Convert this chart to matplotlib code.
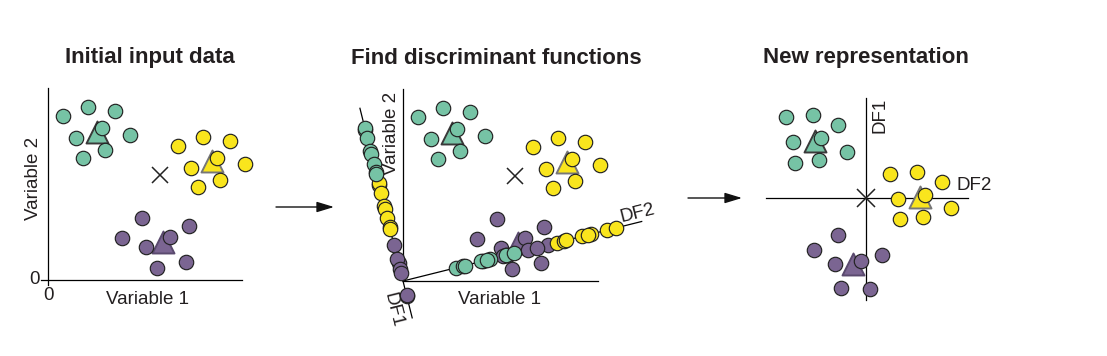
import numpy as np
import matplotlib.pyplot as plt

plt.rcParams['font.family'] = ['Liberation Sans', 'DejaVu Sans']

# class data (variable 1, variable 2)
teal_x = [15, 40, 67, 54, 28, 82, 57, 35]
teal_y = [164, 173, 169, 152, 142, 145, 130, 122]
yellow_x = [130, 155, 182, 169, 143, 197, 172, 150]
yellow_y = [134, 143, 139, 122, 112, 116, 100, 93]
purple_x = [94, 141, 74, 122, 98, 138, 109]
purple_y = [62, 54, 42, 43, 33, 18, 12]

# class centroids and overall centre
cent_x = [49, 164, 115]
cent_y = [148, 119, 38]
centre = (112, 105)

# discriminant function direction (degrees from variable 1 axis)
df_angle = 14

colors = ['#76c3a5', '#f9e51d', '#7b6592']
tri_edge = ['#3a3a3a', '#777777', '#5a4a6e']
text_col = '#231f20'

groups = [(teal_x, teal_y), (yellow_x, yellow_y), (purple_x, purple_y)]

W, H = 1107, 356
fig = plt.figure(figsize=(W / 100, H / 100), dpi=100)

c, s = np.cos(np.radians(df_angle)), np.sin(np.radians(df_angle))


def to_df(x, y):
    x, y = np.asarray(x, float), np.asarray(y, float)
    return -s * x + c * y, c * x + s * y   # df1, df2


def panel(ox, oy, left, right, top, bottom):
    # axes where one data unit is one pixel, origin at (ox, oy)
    ax = fig.add_axes([left / W, (H - bottom) / H, (right - left) / W, (bottom - top) / H])
    ax.set_xlim(left - ox, right - ox)
    ax.set_ylim(oy - bottom, oy - top)
    ax.axis('off')
    return ax


def dots(ax, x, y, col, z=3):
    ax.scatter(x, y, s=108, c=col, edgecolors='#222222', linewidths=0.85, zorder=z, clip_on=False)


def tri(ax, x, y, i):
    ax.scatter([x], [y], marker='^', s=250, c=colors[i], edgecolors=tri_edge[i],
               linewidths=1.4, zorder=2, clip_on=False)


lw = 0.9
fs = 13.5

# panel 1: initial data
ax1 = panel(48, 280, 15, 265, 85, 320)
ax1.plot([-7, 194], [0, 0], color='black', lw=lw)
ax1.plot([0, 0], [-5, 192], color='black', lw=lw)
for i, (gx, gy) in enumerate(groups):
    tri(ax1, cent_x[i], cent_y[i], i)
    dots(ax1, gx, gy, colors[i])
ax1.plot(*centre, marker='x', ms=12, mew=1.1, color='#222222', zorder=4)
ax1.text(-8, 0, '0', ha='right', va='center', fontsize=fs, color=text_col)
ax1.text(0, -15, '0', ha='center', va='center', fontsize=fs, color=text_col)
ax1.text(99, -20, 'Variable 1', ha='center', va='center', fontsize=fs, color=text_col)
ax1.text(-15, 102, 'Variable 2', ha='center', va='center', rotation=90, fontsize=fs, color=text_col)

# panel 2: discriminant functions
ax2 = panel(403, 281, 340, 690, 85, 345)
ax2.plot([0, 195], [0, 0], color='black', lw=lw, zorder=1)
ax2.plot([0, 0], [0, 192], color='black', lw=lw, zorder=1)
t1 = np.array([-38, 178])
t2 = np.array([0, 246])
ax2.plot(-s * t1, c * t1, color='black', lw=lw, zorder=1)
ax2.plot(c * t2, s * t2, color='black', lw=lw, zorder=1)
for i, (gx, gy) in enumerate(groups):
    tri(ax2, cent_x[i], cent_y[i], i)
    dots(ax2, gx, gy, colors[i])
# projections onto DF1 and DF2
for i in [2, 1, 0]:
    d1, d2 = to_df(*groups[i])
    dots(ax2, -s * d1, c * d1, colors[i], z=5 + (2 - i))
    dots(ax2, c * d2, s * d2, colors[i], z=5 + (2 - i))
ax2.plot(*centre, marker='x', ms=12, mew=1.1, color='#222222', zorder=4)
ax2.text(97, -19, 'Variable 1', ha='center', va='center', fontsize=fs, color=text_col)
ax2.text(-11, 148, 'Variable 2', ha='center', va='center', rotation=90, fontsize=fs, color=text_col)
ax2.text(235, 68, 'DF2', ha='center', va='center', rotation=df_angle, fontsize=fs, color=text_col)
ax2.text(-10, -29, 'DF1', ha='center', va='center', rotation=df_angle - 90, fontsize=fs, color=text_col)

# panel 3: new representation
ax3 = panel(866, 198, 750, 1010, 85, 320)
ax3.plot([-100, 102], [0, 0], color='black', lw=lw, zorder=1)
ax3.plot([0, 0], [-102, 100], color='black', lw=lw, zorder=1)
c1, c2 = to_df(*centre)
k1, k2 = to_df(cent_x, cent_y)
for i, (gx, gy) in enumerate(groups):
    d1, d2 = to_df(gx, gy)
    tri(ax3, k2[i] - c2, k1[i] - c1, i)
    dots(ax3, d2 - c2, d1 - c1, colors[i])
ax3.plot(0, 0, marker='x', ms=13.5, mew=1.1, color='#222222', zorder=4)
ax3.text(14, 83, 'DF1', ha='center', va='center', rotation=90, fontsize=fs, color=text_col)
ax3.text(91, 13, 'DF2', ha='left', va='center', fontsize=fs, color=text_col)

# overlay for titles and arrows
ov = fig.add_axes([0, 0, 1, 1], facecolor='none')
ov.set_xlim(0, W)
ov.set_ylim(H, 0)
ov.axis('off')
titles = ['Initial input data', 'Find discriminant functions', 'New representation']
title_x = [150, 496, 866]
for tx, tt in zip(title_x, titles):
    ov.text(tx, 58, tt, ha='center', va='center', fontsize=16, fontweight='bold', color=text_col)
arrows = [(276, 334, 207), (688, 742, 198)]
for x0, x1, y in arrows:
    ov.annotate('', xy=(x1, y), xytext=(x0, y),
                arrowprops=dict(arrowstyle='-|>,head_length=1.05,head_width=0.32',
                                mutation_scale=10, color='#111111', lw=1.0,
                                shrinkA=0, shrinkB=0))

fig.savefig('out.png', dpi=100)
